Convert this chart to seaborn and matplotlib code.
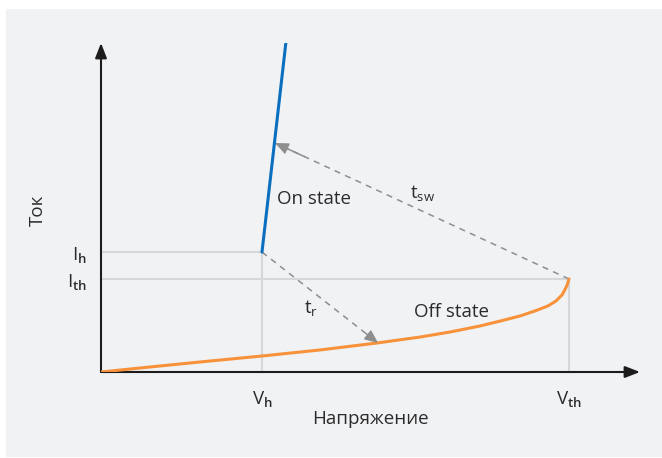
import matplotlib
matplotlib.use("Agg")
import matplotlib.pyplot as plt
import numpy as np
import pandas as pd
import seaborn as sns

# Characteristic points (normalised units: V_th = 1, I_th = 1)
v_h, v_th = 0.344, 1.0
i_h, i_th = 1.29, 1.0

# On-state branch (steep line above holding point)
on_v = [0.344, 0.395]
on_i = [1.29, 3.54]

# Off-state branch (slow rise, sharp knee at threshold)
off_v = [0.0, 0.105, 0.212, 0.344, 0.468, 0.590, 0.682, 0.746, 0.810,
         0.853, 0.895, 0.927, 0.955, 0.972, 0.985, 0.991, 0.996, 1.0]
off_i = [0.0, 0.054, 0.108, 0.172, 0.237, 0.312, 0.376, 0.430, 0.495,
         0.548, 0.602, 0.656, 0.710, 0.763, 0.828, 0.882, 0.935, 1.0]

# Transition arrows: (start, end)
t_sw = ((1.0, 1.0), (0.372, 2.462))
t_r = ((0.344, 1.29), (0.592, 0.312))

x_ticks = [v_h, v_th]
x_labels = [r"V$_{\mathbf{h}}$", r"V$_{\mathbf{th}}$"]
y_ticks = [i_th, i_h]
y_labels = [r"I$_{\mathbf{th}}$", r"I$_{\mathbf{h}}$"]

sns.set_style("white")
plt.rcParams["font.family"] = ["Open Sans", "DejaVu Sans"]
plt.rcParams["mathtext.fontset"] = "custom"
plt.rcParams["mathtext.rm"] = "Open Sans"
plt.rcParams["mathtext.it"] = "Open Sans"
plt.rcParams["mathtext.bf"] = "Open Sans:semibold"

W, H = 662, 458
fig = plt.figure(figsize=(W / 100, H / 100), dpi=100)
fig.patch.set_facecolor("white")

# grey panel behind the plot
bg = fig.add_axes([6 / W, 1 / H, 1 - 6 / W, (H - 10) / H], zorder=-5)
bg.set_facecolor("#f1f2f4")
bg.set_xticks([])
bg.set_yticks([])
for s in bg.spines.values():
    s.set_visible(False)

x0, y0, x1, y1 = 101, 372, 640, 43
ax = fig.add_axes([x0 / W, (H - y0) / H, (x1 - x0) / W, (y0 - y1) / H])
ax.set_facecolor("none")
xmax = (x1 - x0) / 468
ymax = (y0 - y1) / 93
ax.set_xlim(0, xmax)
ax.set_ylim(0, ymax)
for s in ax.spines.values():
    s.set_visible(False)

text_c = "#2b2b2b"
grid_c = "#d6d7d9"

# reference lines
ax.plot([0, v_h], [i_h, i_h], color=grid_c, lw=1.5, zorder=1)
ax.plot([0, v_th], [i_th, i_th], color=grid_c, lw=1.5, zorder=1)
ax.plot([v_h, v_h], [0, i_h], color=grid_c, lw=1.5, zorder=1)
ax.plot([v_th, v_th], [0, i_th], color=grid_c, lw=1.5, zorder=1)

# axes with arrowheads
ax.annotate("", xy=(xmax, 0), xytext=(0, 0), annotation_clip=False,
            arrowprops=dict(arrowstyle="-|>,head_length=0.9,head_width=0.35",
                            color="#1c1c1c", lw=1.5, shrinkA=0, shrinkB=0),
            zorder=3)
ax.annotate("", xy=(0, ymax), xytext=(0, 0), annotation_clip=False,
            arrowprops=dict(arrowstyle="-|>,head_length=0.9,head_width=0.35",
                            color="#1c1c1c", lw=1.5, shrinkA=0, shrinkB=0),
            zorder=3)

# branches
sns.lineplot(x=off_v, y=off_i, ax=ax, color="#f7923a", lw=2.2, sort=False,
             zorder=4)
sns.lineplot(x=on_v, y=on_i, ax=ax, color="#0b6fc0", lw=2.2, sort=False,
             zorder=4)

# dashed transition arrows
arr_c = "#8e8e8e"
for (sx, sy), (ex, ey) in (t_sw, t_r):
    ax.plot([sx, ex], [sy, ey], color=arr_c, lw=1.1, ls=(0, (4, 3.5)),
            zorder=2)
    ax.annotate("", xy=(ex, ey), xytext=(sx + (ex - sx) * 0.9, sy + (ey - sy) * 0.9),
                arrowprops=dict(arrowstyle="-|>,head_length=0.8,head_width=0.35",
                                color=arr_c, lw=1.1, shrinkA=0, shrinkB=0),
                zorder=5)

def px(x, y):
    return (x - x0) / 468, (y0 - y) / 93

fs = 13.5
ax.text(*px(277, 199), "On state", fontsize=fs, color=text_c,
        ha="left", va="center")
ax.text(*px(414, 312), "Off state", fontsize=fs, color=text_c,
        ha="left", va="center")
ax.text(*px(410, 193), r"t$_{\mathrm{sw}}$", fontsize=fs, color=text_c,
        ha="left", va="center")
ax.text(*px(304, 308), r"t$_{\mathrm{r}}$", fontsize=fs, color=text_c,
        ha="left", va="center")

ax.set_xticks(x_ticks, x_labels)
ax.set_yticks(y_ticks, y_labels)
ax.tick_params(axis="x", length=0, pad=12, labelsize=fs, labelcolor=text_c)
ax.tick_params(axis="y", direction="in", length=6, width=2, color="#1c1c1c",
               pad=10, labelsize=fs, labelcolor=text_c)

ax.set_xlabel("Напряжение", fontsize=fs, color=text_c)
ax.set_ylabel("Ток", fontsize=fs, color=text_c)
ax.xaxis.set_label_coords((370 - x0) / (x1 - x0), (y0 - 410) / (y0 - y1))
ax.yaxis.set_label_coords((47 - x0) / (x1 - x0), (y0 - 210) / (y0 - y1))

fig.savefig("out.png", dpi=100, facecolor=fig.get_facecolor())
